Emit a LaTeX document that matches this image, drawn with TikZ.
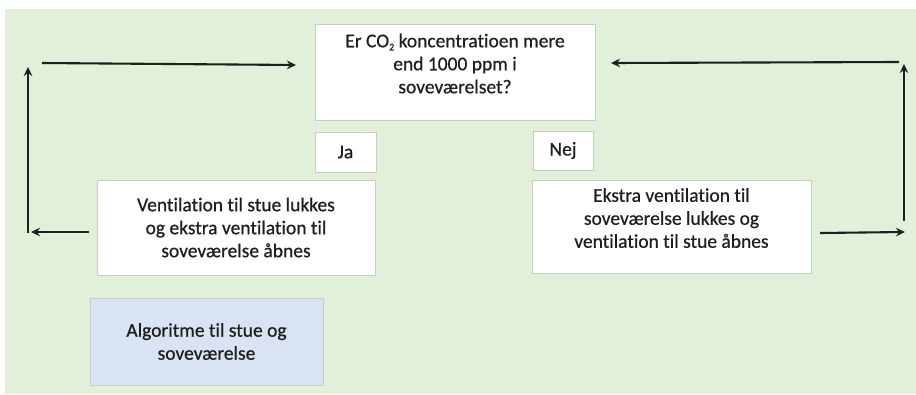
\documentclass[tikz,border=0pt]{standalone}
\usepackage{fontspec}
\setmainfont{Carlito}[FakeBold=0.6, Ligatures=NoCommon]
\usetikzlibrary{arrows.meta}
\definecolor{bggreen}{HTML}{E2EFD9}
\definecolor{boxblue}{HTML}{DAE3F3}
\definecolor{edgegray}{HTML}{C8CCC4}
\definecolor{txt}{HTML}{1E1E1E}
\newcommand{\subtwo}{\raisebox{-3pt}{\fontsize{10}{10}\selectfont 2}}
\tikzset{
  box/.style={draw=edgegray, line width=0.8pt, fill=white, inner sep=0pt, font=\fontsize{19.5}{23}\selectfont, text=txt, align=center},
  conn/.style={line width=2.1pt, draw=black!88, -{Stealth[length=9pt,width=8.5pt]}}
}
\begin{document}
\begin{tikzpicture}[x=1pt,y=-1pt]
\useasboundingbox (0,0) rectangle (916,394);
\fill[white] (0,0) rectangle (916,394);
\fill[bggreen] (5,9) rectangle (916,394);
% boxes
\node[box, minimum width=280pt, minimum height=96pt] (q) at (455,72) {Er CO\subtwo{} koncentratioen mere\\end 1000 ppm i\\soveværelset?\\[-6pt]};
\node[box, minimum width=61pt, minimum height=40pt] (ja) at (345.5,152) {Ja};
\node[box, minimum width=60pt, minimum height=39pt] (nej) at (563,150.5) {Nej};
\node[box, minimum width=278pt, minimum height=95pt] (left) at (236,227.5) {Ventilation til stue lukkes\\og ekstra ventilation til\\soveværelse åbnes};
\node[box, minimum width=279pt, minimum height=93pt] (right) at (671.5,226.5) {Ekstra ventilation til\\soveværelse lukkes og\\ventilation til stue åbnes\\[-6pt]};
\node[box, fill=boxblue, minimum width=233pt, minimum height=87pt] (algo) at (206.5,341.5) {Algoritme til stue og\\soveværelse};
% loop coordinates
\coordinate (lfrom) at (89,232);
\coordinate (lb) at (31,232);
\coordinate (lvb) at (28,233);
\coordinate (lt) at (28,67);
\coordinate (ltop) at (42,63);
\coordinate (lend) at (296,65);
\coordinate (rtop) at (899,62);
\coordinate (rend) at (611,63);
\coordinate (rvb) at (904,221);
\coordinate (rt) at (904,64);
\coordinate (rlo) at (820,233);
\coordinate (rloend) at (905,232);
% connectors
\draw[conn] (lfrom) -- (lb);
\draw[conn] (lvb) -- (lt);
\draw[conn] (ltop) -- (lend);
\draw[conn] (rtop) -- (rend);
\draw[conn] (rvb) -- (rt);
\draw[conn] (rlo) -- (rloend);
\end{tikzpicture}
\end{document}
